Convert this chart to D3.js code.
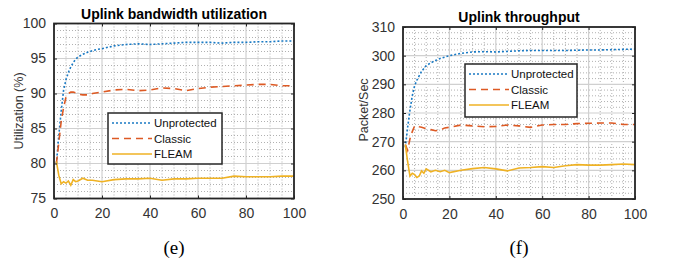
<!DOCTYPE html>
<meta charset="utf-8">
<style>
body { margin: 0; background: #fff; }
svg { font-family: Arial, "Liberation Sans", sans-serif; }
.tick text { fill: #333; font-size: 14px; }
.title { font-weight: bold; font-size: 14px; fill: #000; text-anchor: middle; }
.ylab { font-size: 12.5px; fill: #333; text-anchor: middle; }
.cap { font-family: "Liberation Serif", "Times New Roman", serif; font-size: 19px; text-anchor: middle; fill: #000; }
.leg text { font-size: 11.5px; fill: #111; }
</style>
<svg width="673" height="272"></svg>
<script src="https://d3js.org/d3.v7.min.js"></script>
<script>

var xs = [1,2,3,4,5,6,7,8,9,10,12,14,16,18,20,25,30,35,40,45,50,55,60,65,70,75,80,85,90,95,100];

// (e) uplink bandwidth utilization
var utilUnprotected = [80,84,87.5,90.5,92,93,93.8,94.4,94.9,95.2,95.6,95.9,96.1,96.3,96.4,96.8,97.0,97.1,97.0,97.1,97.2,97.3,97.3,97.3,97.2,97.3,97.3,97.4,97.4,97.5,97.5];
var utilClassic = [80,83,86,88,89.5,90,90.2,90.2,90.1,89.9,89.8,89.8,90.0,90.1,90.2,90.5,90.6,90.4,90.5,90.8,90.7,90.4,90.7,90.9,91.0,91.1,91.2,91.3,91.3,91.1,91.1];
var utilFleam = [80.3,78.3,77.1,77.4,77.2,77.5,76.9,77.7,77.4,77.5,77.9,77.6,77.6,77.5,77.4,77.7,77.8,77.8,77.9,77.6,77.8,77.8,77.9,77.9,77.9,78.2,78.1,78.1,78.1,78.2,78.2];

// (f) uplink throughput
var thrUnprotected = [268,275,281,286,289.5,291.5,293,294.5,295.5,296.5,297.5,298.3,299,299.5,300,300.8,301.3,301.4,301.3,301.5,301.7,301.8,301.8,301.8,301.8,301.9,302,302,302.1,302.2,302.3];
var thrClassic = [269,267,271,273.5,275.5,275.5,275.2,275,274.8,274.5,274.2,273.8,274,274.8,275,275.8,275.5,275.2,275.3,275.8,275.5,275,275.8,276,276,276.3,276.4,276.5,276.5,276,276];
var thrFleam = [269,263,258,259,258.5,257.5,258,259.8,259,260.5,259.5,260,259.5,260,259.2,260,260.6,261,260.5,259.8,260.8,261,261.3,261,261.6,262,261.8,261.8,262,262.2,262];

var names = ["Unprotected", "Classic", "FLEAM"];
var colors = ["#1a7ac4", "#dd5a24", "#efb224"];
var dashes = ["2,2", "7,5", null];
var xTicks = [0, 20, 40, 60, 80, 100];

var svg = d3.select("svg");

function panel(opt) {
  var g = svg.append("g");
  var x = d3.scaleLinear().domain([0, 100]).range([opt.left, opt.right]);
  var y = d3.scaleLinear().domain(opt.yDomain).range([opt.bottom, opt.top]);

  // minor grid
  g.selectAll(".mx").data(d3.range(0, 101, 5).filter(function(d) { return d % 20; }))
    .enter().append("line")
    .attr("x1", x).attr("x2", x).attr("y1", opt.top).attr("y2", opt.bottom)
    .attr("stroke", "#a8a8a8").attr("stroke-width", 0.9).attr("stroke-dasharray", "1,2");
  g.selectAll(".my").data(d3.range(opt.yDomain[0], opt.yDomain[1] + 0.01, opt.yMinor).filter(function(d) { return Math.abs(d % opt.yStep) > 0.01; }))
    .enter().append("line")
    .attr("y1", y).attr("y2", y).attr("x1", opt.left).attr("x2", opt.right)
    .attr("stroke", "#a8a8a8").attr("stroke-width", 0.9).attr("stroke-dasharray", "1,2");
  // major grid
  g.selectAll(".gx").data(xTicks).enter().append("line")
    .attr("x1", x).attr("x2", x).attr("y1", opt.top).attr("y2", opt.bottom)
    .attr("stroke", "#d0d0d0").attr("stroke-width", 1.2);
  g.selectAll(".gy").data(d3.range(opt.yDomain[0], opt.yDomain[1] + 0.01, opt.yStep)).enter().append("line")
    .attr("y1", y).attr("y2", y).attr("x1", opt.left).attr("x2", opt.right)
    .attr("stroke", "#d0d0d0").attr("stroke-width", 1.2);

  var clipId = "clip" + opt.id;
  svg.append("clipPath").attr("id", clipId).append("rect")
    .attr("x", opt.left).attr("y", opt.top).attr("width", opt.right - opt.left).attr("height", opt.bottom - opt.top);

  var line = d3.line().x(function(d, i) { return x(xs[i]); }).y(function(d) { return y(d); });
  opt.series.forEach(function(s, i) {
    g.append("path").datum(s)
      .attr("clip-path", "url(#" + clipId + ")")
      .attr("d", line).attr("fill", "none")
      .attr("stroke", colors[i]).attr("stroke-width", 1.6)
      .attr("stroke-dasharray", dashes[i]);
  });

  // axes
  var yTicks = d3.range(opt.yDomain[0], opt.yDomain[1] + 0.01, opt.yStep);
  g.append("g").attr("transform", "translate(0," + opt.bottom + ")")
    .call(d3.axisBottom(x).tickValues(xTicks).tickSize(-3).tickPadding(10))
    .call(function(a) { a.select(".domain").remove(); a.selectAll("line").attr("stroke", "#262626"); });
  g.append("g").attr("transform", "translate(0," + opt.top + ")")
    .call(d3.axisTop(x).tickValues(xTicks).tickSize(-3).tickFormat(""))
    .call(function(a) { a.select(".domain").remove(); a.selectAll("line").attr("stroke", "#262626"); });
  g.append("g").attr("transform", "translate(" + opt.left + ",0)")
    .call(d3.axisLeft(y).tickValues(yTicks).tickSize(-3).tickPadding(8))
    .call(function(a) { a.select(".domain").remove(); a.selectAll("line").attr("stroke", "#262626"); });
  g.append("g").attr("transform", "translate(" + opt.right + ",0)")
    .call(d3.axisRight(y).tickValues(yTicks).tickSize(-3).tickFormat(""))
    .call(function(a) { a.select(".domain").remove(); a.selectAll("line").attr("stroke", "#262626"); });
  g.selectAll(".tick text").attr("font-family", null).attr("font-size", null);

  g.append("rect").attr("x", opt.left).attr("y", opt.top)
    .attr("width", opt.right - opt.left).attr("height", opt.bottom - opt.top)
    .attr("fill", "none").attr("stroke", "#262626").attr("stroke-width", 1.8);

  g.append("text").attr("class", "title").attr("x", (opt.left + opt.right) / 2).attr("y", opt.top - 5).text(opt.title);
  g.append("text").attr("class", "ylab")
    .attr("transform", "translate(" + opt.ylabX + "," + opt.ylabY + ") rotate(-90)").text(opt.ylabel);
  g.append("text").attr("class", "cap").attr("x", (opt.left + opt.right) / 2).attr("y", 254).text(opt.cap);

  // legend
  var L = opt.legend;
  var leg = g.append("g").attr("class", "leg");
  leg.append("rect").attr("x", L.x).attr("y", L.y).attr("width", L.w).attr("height", L.h)
    .attr("fill", "#fff").attr("stroke", "#262626").attr("stroke-width", 1.5);
  names.forEach(function(n, i) {
    var yy = L.y + 10 + i * 15.5;
    leg.append("line").attr("x1", L.x + 4).attr("x2", L.x + 44).attr("y1", yy).attr("y2", yy)
      .attr("stroke", colors[i]).attr("stroke-width", 1.6).attr("stroke-dasharray", dashes[i]);
    leg.append("text").attr("x", L.x + 46).attr("y", yy + 4).text(n);
  });
}

panel({
  id: "e", left: 54, right: 294, top: 23.5, bottom: 198.5,
  yDomain: [75, 100], yStep: 5, yMinor: 1,
  series: [utilUnprotected, utilClassic, utilFleam],
  title: "Uplink bandwidth utilization", ylabel: "Utilization (%)", ylabX: 23, ylabY: 111, cap: "(e)",
  legend: {x: 108, y: 113, w: 114, h: 51}
});

panel({
  id: "f", left: 403, right: 635, top: 27, bottom: 199,
  yDomain: [250, 310], yStep: 10, yMinor: 2,
  series: [thrUnprotected, thrClassic, thrFleam],
  title: "Uplink throughput", ylabel: "Packet/Sec", ylabX: 368, ylabY: 110, cap: "(f)",
  legend: {x: 465, y: 64, w: 112, h: 53}
});

</script>
